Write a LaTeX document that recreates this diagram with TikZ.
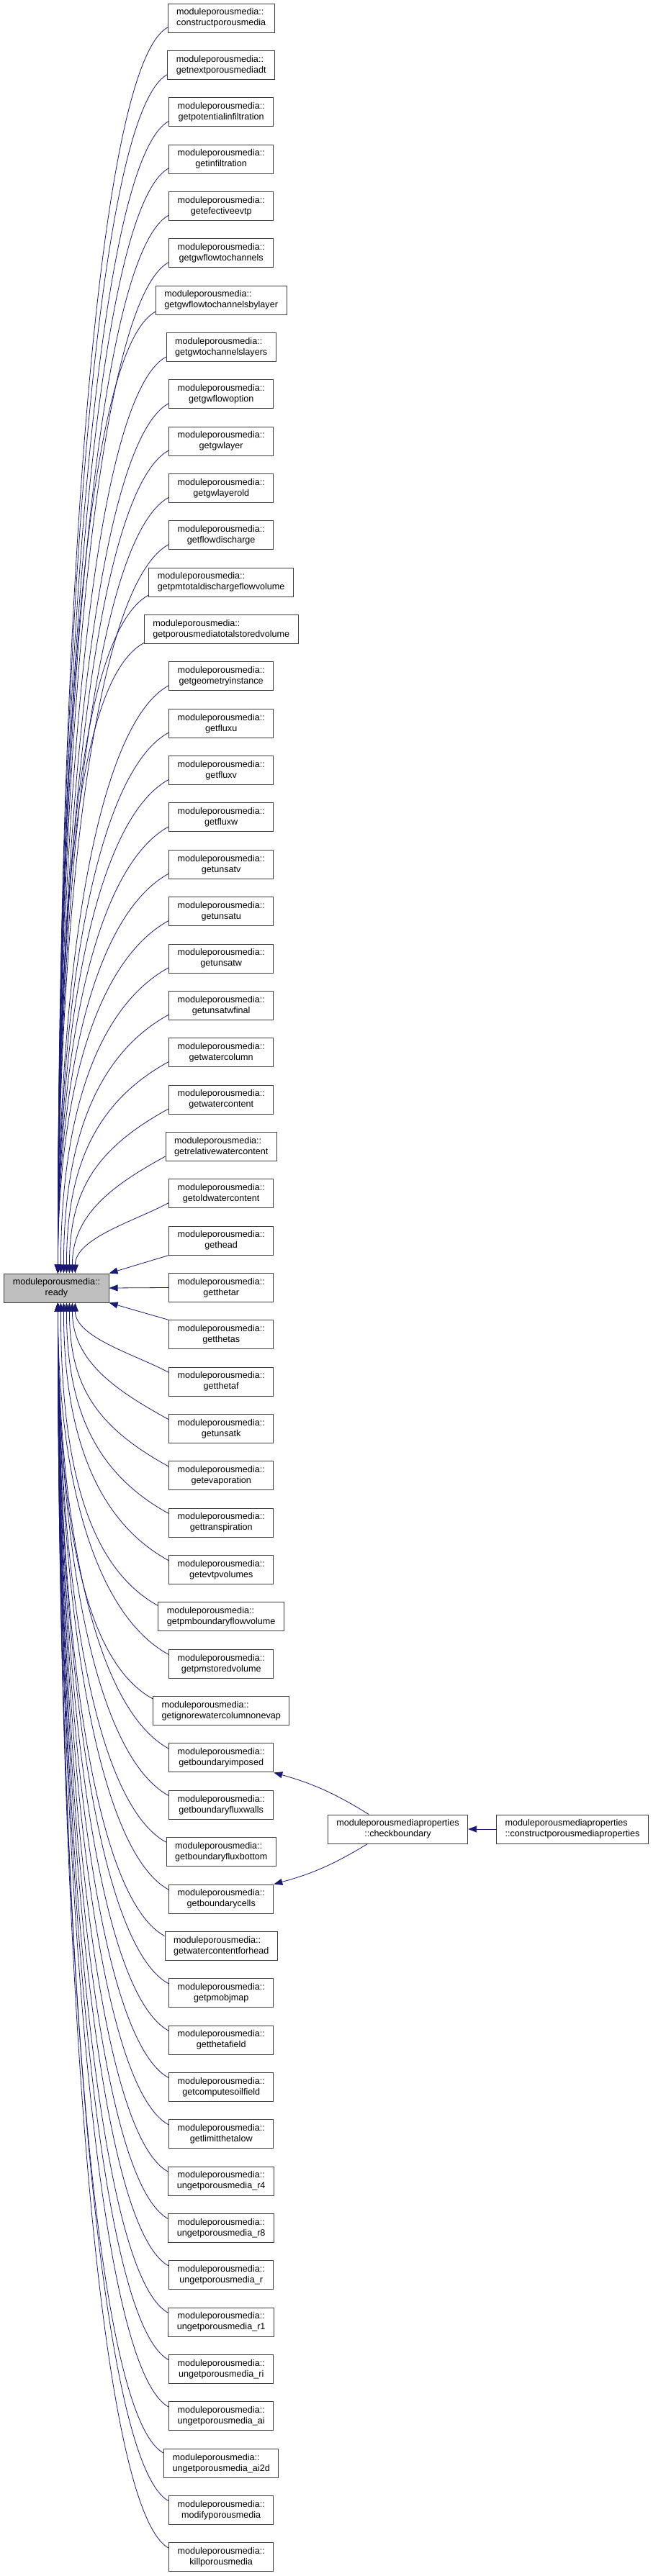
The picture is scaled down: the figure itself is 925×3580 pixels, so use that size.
\documentclass[tikz,border=0pt]{standalone}
\usepackage{fontspec}
\setmainfont{Liberation Sans}
\definecolor{dxblue}{RGB}{25,25,112}
\definecolor{dxgray}{RGB}{191,191,191}
\definecolor{dxline}{RGB}{60,60,60}
\usetikzlibrary{arrows.meta}
\tikzset{
  fn/.style={draw=dxline, line width=1pt, fill=white, inner xsep=12pt, inner ysep=0pt,
    minimum height=40pt, font=\fontsize{12.6}{15}\selectfont},
  edge/.style={dxblue, line width=0.8pt, -{Triangle[length=12pt,width=9pt]}}
}

\begin{document}
\begin{tikzpicture}[x=1pt, y=-1pt]
  \useasboundingbox (0,0) rectangle (925,3580);
  % the called routine
  \node[fn, fill=dxgray, align=center] (ready) at (78.5,1790) {moduleporousmedia::\\ready};
  % its callers, one per row
  \foreach \i/\nm/\al in {
    1/constructporousmedia/left, 2/getnextporousmediadt/left,
    3/getpotentialinfiltration/center, 4/getinfiltration/center,
    5/getefectiveevtp/center, 6/getgwflowtochannels/center,
    7/getgwflowtochannelsbylayer/left, 8/getgwtochannelslayers/left,
    9/getgwflowoption/center, 10/getgwlayer/center, 11/getgwlayerold/center,
    12/getflowdischarge/center, 13/getpmtotaldischargeflowvolume/left,
    14/getporousmediatotalstoredvolume/left, 15/getgeometryinstance/center,
    16/getfluxu/center, 17/getfluxv/center, 18/getfluxw/center,
    19/getunsatv/center, 20/getunsatu/center, 21/getunsatw/center,
    22/getunsatwfinal/center, 23/getwatercolumn/center, 24/getwatercontent/center,
    25/getrelativewatercontent/left, 26/getoldwatercontent/center,
    27/gethead/center, 28/getthetar/center, 29/getthetas/center,
    30/getthetaf/center, 31/getunsatk/center, 32/getevaporation/center,
    33/gettranspiration/center, 34/getevtpvolumes/center,
    35/getpmboundaryflowvolume/left, 36/getpmstoredvolume/center,
    37/getignorewatercolumnonevap/left, 38/getboundaryimposed/center,
    39/getboundaryfluxwalls/center, 40/getboundaryfluxbottom/left,
    41/getboundarycells/center, 42/getwatercontentforhead/left,
    43/getpmobjmap/center, 44/getthetafield/center, 45/getcomputesoilfield/center,
    46/getlimitthetalow/center, 47/ungetporousmedia\_r4/center,
    48/ungetporousmedia\_r8/center, 49/ungetporousmedia\_r/center,
    50/ungetporousmedia\_r1/center, 51/ungetporousmedia\_ri/center,
    52/ungetporousmedia\_ai/center, 53/ungetporousmedia\_ai2d/left,
    54/modifyporousmedia/center, 55/killporousmedia/center}{
    \node[fn, align=\al] (n\i) at (307.2,{25+(\i-1)*65.35}) {moduleporousmedia::\\\nm};
  }
  % callers above
  \foreach \i in {1,...,26}{
    \pgfmathsetmacro\gap{1732-(\i-1)*65.35}
    \pgfmathsetmacro\ctl{min(102,0.45*\gap)}
    \pgfmathsetmacro\off{75+max(0,\i-20)*4}
    \draw[edge] (n\i.190) .. controls +(-\ctl,0.55*\ctl) and +(0,-0.5*\gap) .. ([xshift=\off pt]ready.north west);
  }
  \draw[edge] (n27.south west) -- (ready.north east);
  \draw[edge] (n28.west) -- (ready.east);
  \draw[edge] (n29.north west) -- (ready.south east);
  % callers below
  \foreach \i in {30,...,55}{
    \pgfmathsetmacro\gap{(\i-1)*65.35-1798}
    \pgfmathsetmacro\ctl{min(102,0.45*\gap)}
    \pgfmathsetmacro\off{75+max(0,36-\i)*4}
    \draw[edge] (n\i.170) .. controls +(-\ctl,-0.55*\ctl) and +(0,0.5*\gap) .. ([xshift=\off pt]ready.south west);
  }
  % second level
  \node[fn, align=center] (chk) at (552.5,2542) {moduleporousmediaproperties\\::checkboundary};
  \node[fn, align=left] (cpp) at (795,2542) {moduleporousmediaproperties\\::constructporousmediaproperties};
  \draw[edge] (cpp.west) -- (chk.east);
  \draw[edge] (chk.153) to[bend right=8] (n38.south east);
  \draw[edge] (chk.206) to[bend left=8] (n41.north east);
\end{tikzpicture}
\end{document}
